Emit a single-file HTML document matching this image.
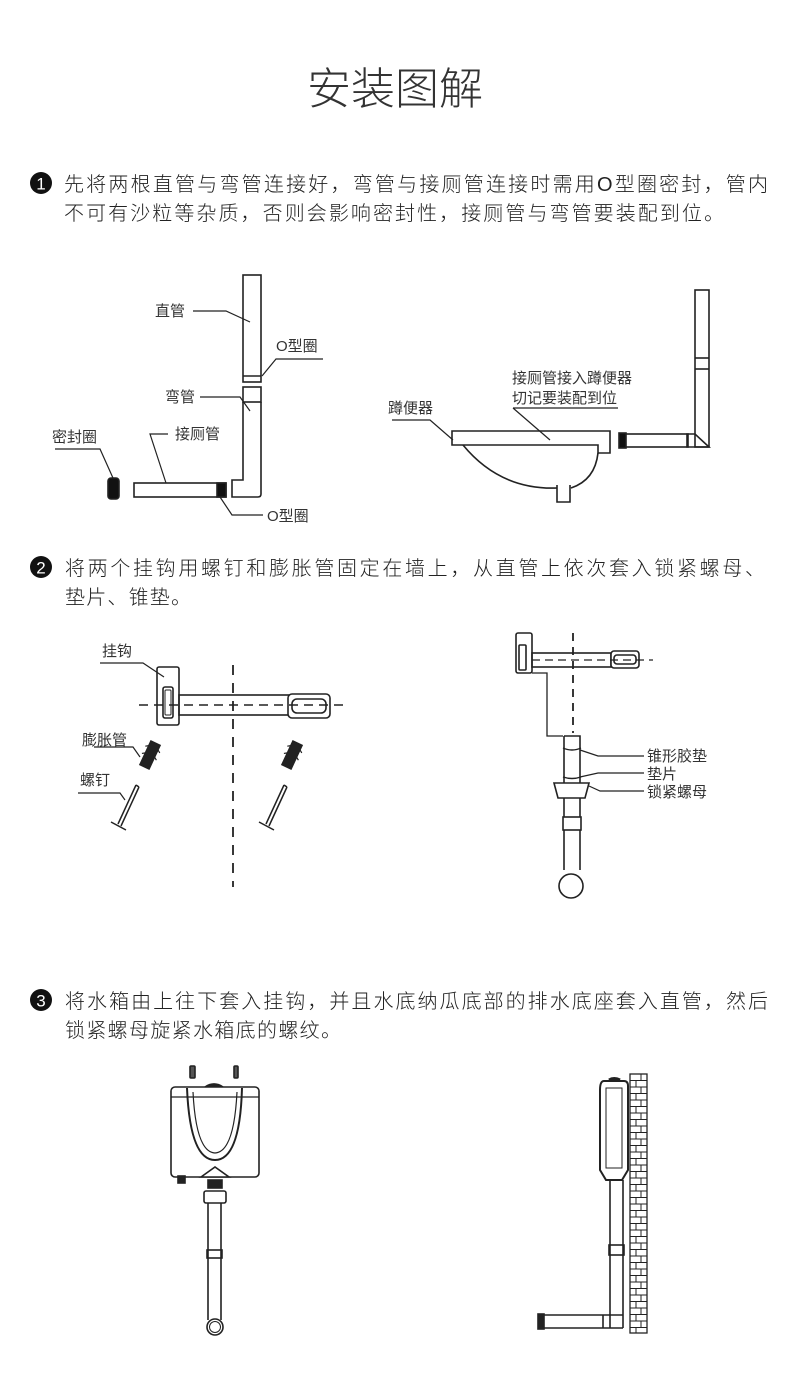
<!DOCTYPE html>
<html><head><meta charset="utf-8"><style>
html,body{margin:0;padding:0;background:#fff;}
svg{display:block;}
text{font-family:"Liberation Sans","Noto Sans CJK SC",sans-serif;fill:#222;}
.t{font-size:20px;font-weight:300;}
.l{font-size:15px;fill:#333;}
</style></head><body>
<svg width="790" height="1394" viewBox="0 0 790 1394" xmlns="http://www.w3.org/2000/svg">
<rect width="790" height="1394" fill="#fff"/>
<text x="395" y="104" text-anchor="middle" style="font-size:44px;font-weight:300;fill:#333">安装图解</text>

<!-- step 1 text -->
<circle cx="41" cy="183" r="11" fill="#111"/>
<text x="41" y="189.5" text-anchor="middle" style="font-size:17px;fill:#fff">1</text>
<text class="t" x="64" y="191" textLength="704" lengthAdjust="spacing">先将两根直管与弯管连接好，弯管与接厕管连接时需用O型圈密封，管内</text>
<text class="t" x="64" y="220" textLength="660" lengthAdjust="spacing">不可有沙粒等杂质，否则会影响密封性，接厕管与弯管要装配到位。</text>

<g fill="none" stroke="#222" stroke-width="1.6">
<!-- diagram 1 left -->
<rect x="243" y="275" width="18" height="107" fill="#fff"/>
<line x1="243" y1="376" x2="261" y2="376"/>
<rect x="243" y="387" width="18" height="15"/>
<path d="M243 402 V480 H232 V497 H258 Q261 497 261 494 V402"/>
<rect x="134" y="483" width="92" height="14"/>
<rect x="217" y="483" width="9" height="14" fill="#111"/>
<rect x="108" y="478" width="11" height="21" rx="3" fill="#111"/>
<path d="M193 311 H226 L250 322" stroke-width="1.2"/>
<path d="M323 359 H276 L262 376" stroke-width="1.2"/>
<path d="M200 397 H240 L250 411" stroke-width="1.2"/>
<path d="M55 449 H100 L113 478" stroke-width="1.2"/>
<path d="M168 434 H150 L166 483" stroke-width="1.2"/>
<path d="M220 497 L232 515 H263" stroke-width="1.2"/>

<!-- diagram 1 right -->
<rect x="695" y="290" width="14" height="157"/>
<line x1="695" y1="358" x2="709" y2="358"/>
<line x1="695" y1="369" x2="709" y2="369"/>
<rect x="620" y="434" width="68" height="13"/>
<rect x="619" y="433" width="7" height="15" fill="#111"/>
<path d="M687 434 H695 L709 447 H687 Z"/>
<path d="M452 431 H610 V453 H598 V445 H452 Z" fill="#fff"/>
<path d="M463 445 Q500 490 557 488"/>
<path d="M571 488 Q595 480 598 453"/>
<path d="M557 485 V502 H570 V485"/>
<path d="M392 420 H430 L453 440" stroke-width="1.2"/>
<path d="M513 408 H618 M513 408 L550 440" stroke-width="1.2"/>
</g>
<text class="l" x="155" y="316">直管</text>
<text class="l" x="276" y="351">O型圈</text>
<text class="l" x="165" y="402">弯管</text>
<text class="l" x="52" y="442">密封圈</text>
<text class="l" x="175" y="439">接厕管</text>
<text class="l" x="267" y="521">O型圈</text>
<text class="l" x="388" y="413">蹲便器</text>
<text class="l" x="512" y="383">接厕管接入蹲便器</text>
<text class="l" x="512" y="403">切记要装配到位</text>

<!-- step 2 text -->
<circle cx="41" cy="567" r="11" fill="#111"/>
<text x="41" y="573.5" text-anchor="middle" style="font-size:17px;fill:#fff">2</text>
<text class="t" x="65" y="575" textLength="700" lengthAdjust="spacing">将两个挂钩用螺钉和膨胀管固定在墙上，从直管上依次套入锁紧螺母、</text>
<text class="t" x="65" y="604" textLength="126" lengthAdjust="spacing">垫片、锥垫。</text>

<g fill="none" stroke="#222" stroke-width="1.6">
<!-- left hook -->
<rect x="157" y="667" width="22" height="58" rx="2" fill="#fff"/>
<rect x="163" y="687" width="10" height="31" rx="2"/>
<rect x="165" y="690" width="6" height="25" rx="1" stroke-width="1"/>
<rect x="179" y="695" width="110" height="20"/>
<rect x="288" y="694" width="42" height="24" rx="4" fill="#fff"/>
<rect x="292" y="699" width="34" height="14" rx="5"/>
<line x1="139" y1="705" x2="347" y2="705" stroke-dasharray="9 6" stroke-width="1.4"/>
<line x1="233" y1="665" x2="233" y2="887" stroke-dasharray="10 8" stroke-width="1.8"/>
<path d="M100 663 H143 L164 677" stroke-width="1.2"/>
<path d="M94 747 H133 L140 757" stroke-width="1.2"/>
<path d="M78 793 H120 L125 800" stroke-width="1.2"/>
<!-- anchors -->
<g transform="translate(150,755) rotate(25)"><rect x="-5" y="-13" width="10" height="26" fill="#222"/><path d="M-5 -8 L-8 -6 M-5 0 L-8 2 M5 -8 L8 -6 M5 0 L8 2" stroke-width="1.2"/></g>
<g transform="translate(292,755) rotate(25)"><rect x="-5" y="-13" width="10" height="26" fill="#222"/><path d="M-5 -8 L-8 -6 M-5 0 L-8 2 M5 -8 L8 -6 M5 0 L8 2" stroke-width="1.2"/></g>
<!-- screws -->
<path d="M136 785 L118 824 M139 787 L121 826 M136 785 L139 787 M111 822 L126 830" stroke-width="1.5"/>
<path d="M284 785 L266 824 M287 787 L269 826 M284 785 L287 787 M259 822 L274 830" stroke-width="1.5"/>

<!-- right hook assembly -->
<rect x="516" y="633" width="16" height="40" rx="2" fill="#fff"/>
<rect x="519" y="645" width="7" height="25" rx="1"/>
<rect x="532" y="653" width="79" height="14"/>
<rect x="611" y="651" width="28" height="17" rx="3" fill="#fff"/>
<rect x="614" y="655" width="22" height="9" rx="3"/>
<line x1="532" y1="660" x2="653" y2="660" stroke-dasharray="8 5" stroke-width="1.3"/>
<line x1="573" y1="633" x2="573" y2="733" stroke-dasharray="8 6" stroke-width="1.8"/>
<path d="M532 673 H547 V736 H563" stroke-width="1.3"/>
<path d="M564 736 H580 V870 M564 736 V870"/>
<path d="M563 748 Q572 752 581 748 M563 777 Q572 780 581 777" stroke-width="1.4"/>
<path d="M554 783 H589 L585 798 H558 Z" fill="#fff"/>
<line x1="564" y1="823" x2="580" y2="823"/>
<rect x="563" y="817" width="18" height="13" fill="#fff"/>
<ellipse cx="571" cy="886" rx="12" ry="12" fill="#fff"/>
<path d="M580 750 L598 756 H644" stroke-width="1.2"/>
<path d="M580 777 L598 773 H644" stroke-width="1.2"/>
<path d="M589 786 L600 791 H644" stroke-width="1.2"/>
</g>
<text class="l" x="102" y="656">挂钩</text>
<text class="l" x="82" y="745">膨胀管</text>
<text class="l" x="80" y="785">螺钉</text>
<text class="l" x="647" y="761">锥形胶垫</text>
<text class="l" x="647" y="779">垫片</text>
<text class="l" x="647" y="797">锁紧螺母</text>

<!-- step 3 text -->
<circle cx="41" cy="1000" r="11" fill="#111"/>
<text x="41" y="1006.5" text-anchor="middle" style="font-size:17px;fill:#fff">3</text>
<text class="t" x="65" y="1008" textLength="703" lengthAdjust="spacing">将水箱由上往下套入挂钩，并且水底纳瓜底部的排水底座套入直管，然后</text>
<text class="t" x="65" y="1037" textLength="276" lengthAdjust="spacing">锁紧螺母旋紧水箱底的螺纹。</text>

<g fill="none" stroke="#222" stroke-width="1.6">
<!-- left tank -->
<rect x="190" y="1066" width="5" height="12" rx="1" fill="#555"/>
<rect x="234" y="1066" width="4" height="12" rx="1" fill="#555"/>
<rect x="171" y="1087" width="88" height="90" rx="4" fill="#fff"/>
<line x1="171" y1="1097" x2="259" y2="1097" stroke-width="1.2"/>
<path d="M205 1087 Q214 1081 223 1087" fill="#222"/>
<path d="M187 1088 Q190 1160 215 1160 Q240 1160 242 1088" stroke-width="2"/>
<path d="M193 1092 Q196 1152 215 1153 Q234 1152 237 1092" stroke-width="1.2"/>
<path d="M201 1177 L215 1167 L229 1177 Z" fill="#fff"/>
<rect x="178" y="1176" width="7" height="7" fill="#222"/>
<rect x="208" y="1180" width="14" height="8" fill="#222"/>
<rect x="204" y="1191" width="22" height="12" rx="2" fill="#fff"/>
<path d="M208 1203 V1320 M221 1203 V1320"/>
<rect x="207" y="1250" width="15" height="8"/>
<circle cx="215" cy="1327" r="8" fill="#fff"/>
<circle cx="215" cy="1327" r="5.5" stroke-width="1"/>

<!-- right side view -->
<rect x="630" y="1074" width="17" height="259" stroke-width="1.3"/>
<g stroke-width="1">
<path d="M630 1080.5H647M630 1087H647M630 1093.5H647M630 1100H647M630 1106.5H647M630 1113H647M630 1119.5H647M630 1126H647M630 1132.5H647M630 1139H647M630 1145.5H647M630 1152H647M630 1158.5H647M630 1165H647M630 1171.5H647M630 1178H647M630 1184.5H647M630 1191H647M630 1197.5H647M630 1204H647M630 1210.5H647M630 1217H647M630 1223.5H647M630 1230H647M630 1236.5H647M630 1243H647M630 1249.5H647M630 1256H647M630 1262.5H647M630 1269H647M630 1275.5H647M630 1282H647M630 1288.5H647M630 1295H647M630 1301.5H647M630 1308H647M630 1314.5H647M630 1321H647M630 1327.5H647"/>
<path d="M641 1074V1080.5M636 1080.5V1087M641 1087V1093.5M636 1093.5V1100M641 1100V1106.5M636 1106.5V1113M641 1113V1119.5M636 1119.5V1126M641 1126V1132.5M636 1132.5V1139M641 1139V1145.5M636 1145.5V1152M641 1152V1158.5M636 1158.5V1165M641 1165V1171.5M636 1171.5V1178M641 1178V1184.5M636 1184.5V1191M641 1191V1197.5M636 1197.5V1204M641 1204V1210.5M636 1210.5V1217M641 1217V1223.5M636 1223.5V1230M641 1230V1236.5M636 1236.5V1243M641 1243V1249.5M636 1249.5V1256M641 1256V1262.5M636 1262.5V1269M641 1269V1275.5M636 1275.5V1282M641 1282V1288.5M636 1288.5V1295M641 1295V1301.5M636 1301.5V1308M641 1308V1314.5M636 1314.5V1321M641 1321V1327.5M636 1327.5V1333"/>
</g>
<path d="M604 1081 H624 Q628 1081 628 1086 V1170 L622 1180 H606 L600 1170 V1090 Q600 1081 604 1081 Z" fill="#fff" stroke-width="2"/>
<path d="M606 1088 H622 V1168 H606 Z" stroke-width="1" rx="3"/>
<path d="M609 1080 Q614 1077 620 1080" stroke-width="3"/>
<path d="M610 1180 V1328 M623 1180 V1328"/>
<rect x="609" y="1245" width="15" height="10"/>
<path d="M544 1315 H623 M544 1328 H623 M603 1315 V1328"/>
<rect x="538" y="1314" width="6" height="15" fill="#222"/>
</g>
</svg>
</body></html>
